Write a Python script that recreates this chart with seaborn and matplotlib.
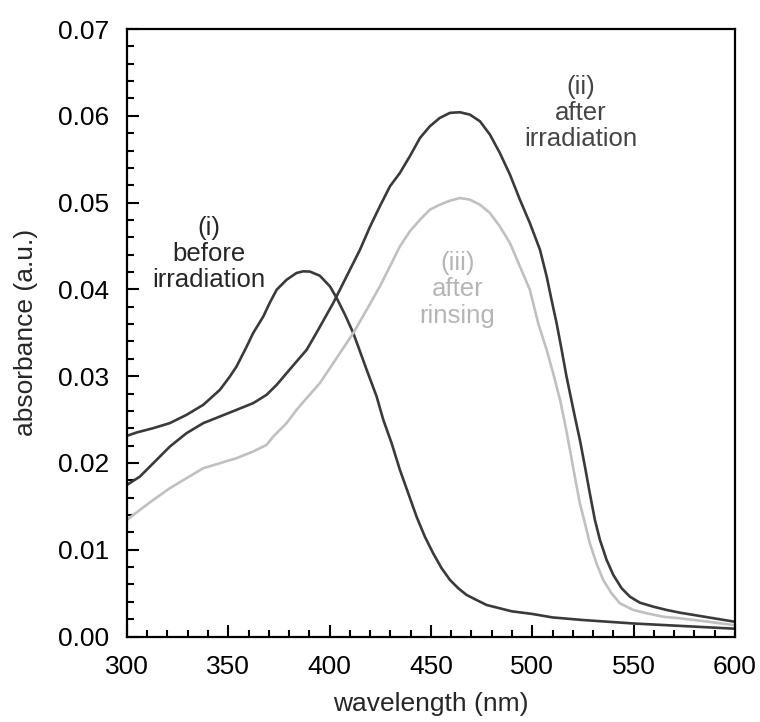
import numpy as np
import pandas as pd
import seaborn as sns
import matplotlib
matplotlib.use("Agg")
import matplotlib.pyplot as plt
from matplotlib.ticker import MultipleLocator, FormatStrFormatter

# ---- data ----
# (i) before irradiation
wl_i = [300, 304.8, 313.0, 321.2, 329.4, 337.7, 345.9, 350.8, 354.1, 359.1, 362.3, 367.3,
        370.6, 373.9, 378.8, 383.7, 387.0, 390.3, 395.2, 400.2, 403.5, 407.6, 411.7,
        415.0, 418.3, 423.2, 426.5, 430.6, 434.7, 438.8, 442.9, 447.0, 451.1, 455.3,
        459.4, 463.5, 467.6, 472.5, 477.5, 484.0, 490, 500, 510, 525, 550, 575, 600]
abs_i = [0.02312, 0.02351, 0.02401, 0.02459, 0.02554, 0.02670, 0.02843, 0.02996, 0.03112,
         0.03342, 0.03497, 0.03688, 0.03851, 0.03996, 0.04111, 0.04189, 0.04208, 0.04205,
         0.04157, 0.04034, 0.03900, 0.03708, 0.03497, 0.03285, 0.03073, 0.02766, 0.02497,
         0.02228, 0.01920, 0.01651, 0.01382, 0.01151, 0.00959, 0.00786, 0.00652, 0.00556,
         0.00479, 0.00421, 0.00363, 0.00325, 0.0029, 0.0026, 0.0022, 0.0019, 0.0015,
         0.0012, 0.0009]

# (ii) after irradiation
wl_ii = [300, 306.4, 313.0, 321.2, 329.4, 337.7, 345.9, 354.1, 362.3, 368.9, 373.9, 378.8,
         383.7, 388.7, 394.4, 401.8, 408.4, 415.0, 419.9, 424.8, 429.8, 434.7, 439.6,
         444.6, 449.5, 454.4, 459.4, 464.3, 469.2, 474.2, 479.1, 484.0, 489.0, 493.9,
         498.8, 503.8, 507.1, 509.5, 512.0, 514.5, 516.9, 518.6, 521.0, 523.5, 526.0,
         528.4, 530.9, 533.4, 536.7, 540.0, 544.1, 548.2, 553.1, 559.7, 566.3, 572.8,
         587, 600]
abs_ii = [0.01747, 0.01843, 0.01997, 0.02189, 0.02343, 0.02459, 0.02535, 0.02612, 0.02689,
          0.02785, 0.02900, 0.03035, 0.03169, 0.03304, 0.03535, 0.03843, 0.04150, 0.04457,
          0.04720, 0.04957, 0.05188, 0.05342, 0.05534, 0.05745, 0.05880, 0.05976, 0.06034,
          0.06041, 0.06014, 0.05937, 0.05784, 0.05572, 0.05322, 0.05034, 0.04765, 0.04457,
          0.04150, 0.03881, 0.03612, 0.03304, 0.02996, 0.02805, 0.02535, 0.02266, 0.01958,
          0.01651, 0.01344, 0.01113, 0.00882, 0.00709, 0.00556, 0.00459, 0.00390, 0.00344,
          0.00306, 0.00275, 0.0022, 0.0017]

# (iii) after rinsing
wl_iii = [300, 306.4, 313.0, 321.2, 329.4, 337.7, 345.9, 354.1, 362.3, 368.9, 372.2, 378.8,
          383.7, 388.7, 395.2, 401.8, 411.7, 418.3, 424.8, 429.8, 434.7, 439.6, 444.6,
          449.5, 454.4, 459.4, 464.3, 469.2, 474.2, 479.1, 484.0, 489.0, 493.9, 498.8,
          502.9, 507.1, 510.3, 513.7, 516.1, 518.6, 521.0, 523.5, 526.0, 528.4, 531.7,
          535.0, 539.1, 543.2, 549.8, 556.4, 564.6, 572.8, 587, 600]
abs_iii = [0.01344, 0.01459, 0.01574, 0.01709, 0.01824, 0.01940, 0.01997, 0.02055, 0.02132,
           0.02208, 0.02304, 0.02459, 0.02612, 0.02747, 0.02920, 0.03150, 0.03497, 0.03765,
           0.04034, 0.04265, 0.04496, 0.04669, 0.04803, 0.04919, 0.04976, 0.05022, 0.05053,
           0.05034, 0.04976, 0.04880, 0.04726, 0.04534, 0.04265, 0.03996, 0.03612, 0.03304,
           0.03035, 0.02728, 0.02459, 0.02151, 0.01843, 0.01536, 0.01305, 0.01075, 0.00844,
           0.00652, 0.00498, 0.00383, 0.00306, 0.00268, 0.00228, 0.00210, 0.0017, 0.0013]

series_names = ["i", "ii", "iii"]
series_colors = {"i": "#3a3a3a", "ii": "#3a3a3a", "iii": "#c0c0c0"}

df = pd.concat([
    pd.DataFrame({"wavelength": wl_i, "absorbance": abs_i, "series": "i"}),
    pd.DataFrame({"wavelength": wl_ii, "absorbance": abs_ii, "series": "ii"}),
    pd.DataFrame({"wavelength": wl_iii, "absorbance": abs_iii, "series": "iii"}),
])

sns.set_style("ticks")
plt.rcParams["font.family"] = ["Liberation Sans", "DejaVu Sans"]

fig = plt.figure(figsize=(7.6, 7.22), dpi=100)
ax = fig.add_axes([0.167, 0.1184, 0.800, 0.8414])

sns.lineplot(data=df, x="wavelength", y="absorbance", hue="series",
             hue_order=series_names, palette=series_colors, linewidth=1.9,
             legend=False, ax=ax, sort=False, estimator=None)

ax.set_xlim(300, 600)
ax.set_ylim(0, 0.07)
ax.xaxis.set_major_locator(MultipleLocator(50))
ax.xaxis.set_minor_locator(MultipleLocator(10))
ax.yaxis.set_major_locator(MultipleLocator(0.01))
ax.yaxis.set_minor_locator(MultipleLocator(0.002))
ax.yaxis.set_major_formatter(FormatStrFormatter("%.2f"))

for s in ax.spines.values():
    s.set_visible(True)
    s.set_linewidth(1.6)
    s.set_color("black")

ax.tick_params(which="both", direction="in", top=False, right=False,
               width=1.5, colors="black", labelsize=19)
ax.tick_params(which="major", length=8.5, pad=13)
ax.tick_params(which="minor", length=5)

ax.set_xlabel("wavelength (nm)", fontsize=19, labelpad=10)
ax.set_ylabel("absorbance (a.u.)", fontsize=19, labelpad=14)

ann_kw = dict(ha="center", va="center", fontsize=18.5, linespacing=1.12)
ax.text(340.5, 0.0441, "(i)\nbefore\nirradiation", color="#262626", **ann_kw)
ax.text(524, 0.0603, "(ii)\nafter\nirradiation", color="#444444", **ann_kw)
ax.text(463, 0.0400, "(iii)\nafter\nrinsing", color="#b5b5b5", **ann_kw)

fig.savefig("out.png", dpi=100)
